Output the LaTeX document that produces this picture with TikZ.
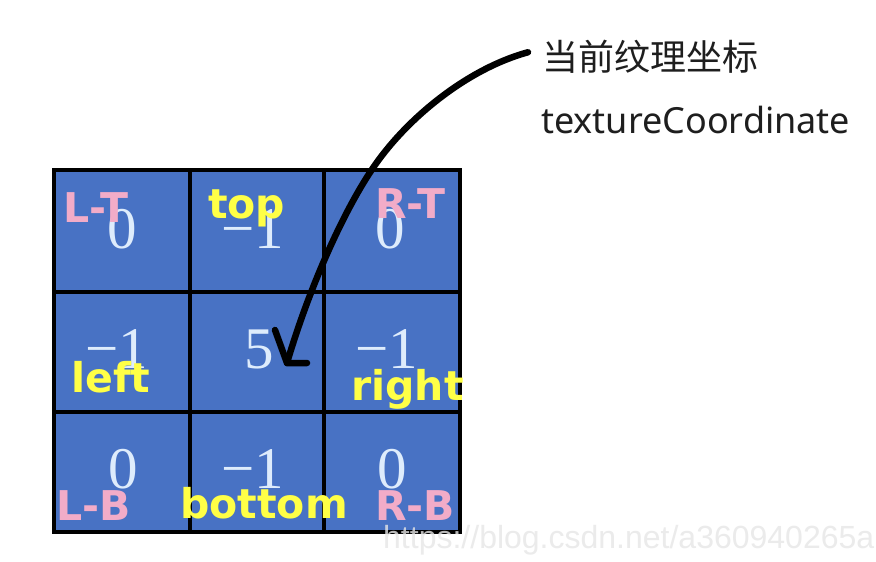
\documentclass[tikz,border=0pt]{standalone}
\usepackage{fontspec}
\newfontfamily\cjkfont{Noto Sans CJK SC}
\newfontfamily\latinfont{Noto Sans}
\newfontfamily\labelfont{DejaVu Sans}
\newfontfamily\digitfont{Liberation Serif}
\newfontfamily\wmfont{Liberation Sans}
\definecolor{cellblue}{RGB}{72,114,196}
\definecolor{digitcol}{RGB}{222,236,252}
\definecolor{pinkcol}{RGB}{242,172,200}
\definecolor{yellowcol}{RGB}{255,255,70}
\definecolor{textdark}{RGB}{30,30,30}
\definecolor{wmcol}{RGB}{230,230,230}
\begin{document}
\begin{tikzpicture}[x=1pt,y=-1pt,
  cell/.style={draw=black, fill=cellblue, line width=3.5pt, inner sep=0pt},
  digit/.style={anchor=base, text=digitcol, inner sep=0pt, font=\digitfont\fontsize{59}{59}\selectfont},
  corner/.style={anchor=base west, text=pinkcol, inner sep=0pt, font=\labelfont\bfseries\fontsize{41}{41}\selectfont},
  side/.style={corner, text=yellowcol},
  caption/.style={anchor=base west, inner sep=0pt, text=textdark},
  pen/.style={line width=6.5pt, line cap=round, line join=round, draw=black}]
\useasboundingbox (0,0) rectangle (876,562);
\fill[white] (0,0) rectangle (876,562);
% cells
\node[cell, minimum width=136pt, minimum height=122pt] (c11) at (122,231) {};
\node[cell, minimum width=134pt, minimum height=122pt] (c12) at (257,231) {};
\node[cell, minimum width=136pt, minimum height=122pt] (c13) at (392,231) {};
\node[cell, minimum width=136pt, minimum height=120pt] (c21) at (122,352) {};
\node[cell, minimum width=134pt, minimum height=120pt] (c22) at (257,352) {};
\node[cell, minimum width=136pt, minimum height=120pt] (c23) at (392,352) {};
\node[cell, minimum width=136pt, minimum height=120pt] (c31) at (122,472) {};
\node[cell, minimum width=134pt, minimum height=120pt] (c32) at (257,472) {};
\node[cell, minimum width=136pt, minimum height=120pt] (c33) at (392,472) {};
% digits
\node[digit] (d11) at (122,248) {0};
\node[digit] (d12) at (253,248) {−1};
\node[digit] (d13) at (390,248) {0};
\node[digit] (d21) at (117,368) {−1};
\node[digit] (d22) at (259,368) {5};
\node[digit] (d23) at (387,368) {−1};
\node[digit] (d31) at (123,488) {0};
\node[digit] (d32) at (253,488) {−1};
\node[digit] (d33) at (392,488) {0};
% labels
\node[corner] (lt) at (63,222) {L-T};
\node[side] (top) at (208,218) {top};
\node[corner] (rt) at (375,218) {R-T};
\node[side] (left) at (71,392) {left};
\node[side] (right) at (351,400) {right};
\node[corner] (lb) at (56,520) {L-B};
\node[side] (bottom) at (180,518) {bottom};
\node[corner] (rb) at (375,520) {R-B};
% captions
\node[caption, font=\cjkfont\fontsize{36}{36}\selectfont] (cn) at (542,70) {当前纹理坐标};
\node[caption, font=\latinfont\fontsize{36}{36}\selectfont] (en) at (541,133) {textureCoordinate};
% arrow
\coordinate (tip) at (287,363);
\draw[pen] ([shift={(-14,-4)}]cn.west) .. controls (470,68) and (410,115) .. (375,165)
  .. controls (345,208) and (310,285) .. (tip);
\draw[pen] ([shift={(-12,-33)}]tip) -- (tip) -- ([shift={(20,0)}]tip);
% watermark
\node[anchor=base west, inner sep=0pt, text=wmcol, opacity=0.8, font=\wmfont\fontsize{32}{32}\selectfont] (wm) at (383,548) {https://blog.csdn.net/a360940265a};
\end{tikzpicture}
\end{document}
